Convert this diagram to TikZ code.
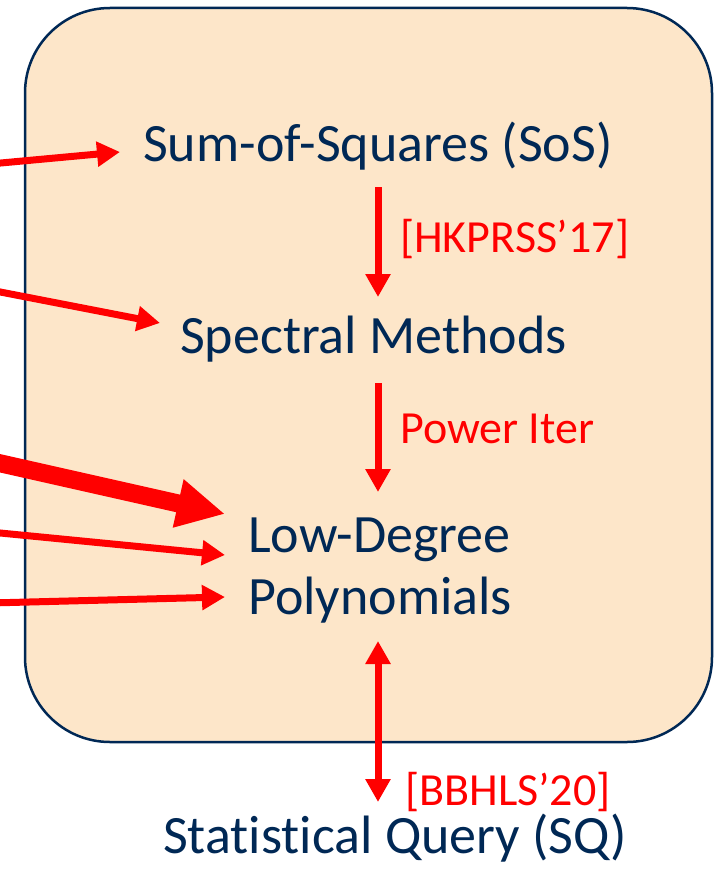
\documentclass[tikz,border=0pt]{standalone}
\usepackage{fontspec}
\setmainfont{Carlito}[Ligatures={NoCommon,NoRare,NoContextual}]
\usetikzlibrary{arrows.meta}
\definecolor{navy}{RGB}{0,40,85}
\definecolor{peach}{RGB}{253,230,201}
\definecolor{myred}{RGB}{255,0,0}
\begin{document}
\begin{tikzpicture}[x=1pt,y=-1pt,
  frame/.style={draw=navy, line width=2.5pt, fill=peach, rounded corners=85pt, inner sep=0pt, outer sep=0pt, anchor=north west},
  main/.style={text=navy, font=\fontsize{54}{64}\selectfont, inner sep=0pt, anchor=base west},
  lab/.style={text=myred, font=\fontsize{46}{55}\selectfont, inner sep=0pt, anchor=base west},
  arr/.style={draw=myred, line width=7pt, -{Triangle[length=23pt,width=24pt]}},
  fat/.style={draw=myred, line width=18pt, -{Triangle[length=48pt,width=46pt]}},
  dbl/.style={draw=myred, line width=7pt, {Triangle[length=23pt,width=24pt]}-{Triangle[length=23pt,width=24pt]}}]
\fill[white] (0,0) rectangle (718,869);
\useasboundingbox (0,0) rectangle (718,869);
\node[frame, minimum width=687pt, minimum height=734pt] (box) at (25,8) {};
\node[main] (sos) at (143,162) {Sum-of-Squares (SoS)};
\node[main] (spec) at (180,353) {Spectral Methods};
\node[main] (low) at (248,552) {Low-Degree};
\node[main] (poly) at (248,614) {Polynomials};
\node[main] (sq) at (163,853) {Statis{}ti{}cal Query (SQ)};
\node[lab] (l1) at (400,252) {[HKPRSS’17]};
\node[lab] (l2) at (400,443) {Power Iter};
\node[lab] (l3) at (405,805) {[BBHLS’20]};
\coordinate (s1) at (-10,164); \coordinate (t1) at (120,152);
\coordinate (s2) at (-10,290); \coordinate (t2) at (160,323);
\coordinate (s3) at (-10,461); \coordinate (t3) at (225,514);
\coordinate (s4) at (-10,532); \coordinate (t4) at (225,555);
\coordinate (s5) at (-10,603); \coordinate (t5) at (225,597);
\coordinate (v1a) at (378,187); \coordinate (v1b) at (378,297);
\coordinate (v2a) at (378,383); \coordinate (v2b) at (378,492);
\coordinate (v3a) at (378,641); \coordinate (v3b) at (378,802);
\draw[arr] (s1) -- (t1);
\draw[arr] (s2) -- (t2);
\draw[fat] (s3) -- (t3);
\draw[arr] (s4) -- (t4);
\draw[arr] (s5) -- (t5);
\draw[arr] (v1a) -- (v1b);
\draw[arr] (v2a) -- (v2b);
\draw[dbl] (v3a) -- (v3b);
\end{tikzpicture}
\end{document}
